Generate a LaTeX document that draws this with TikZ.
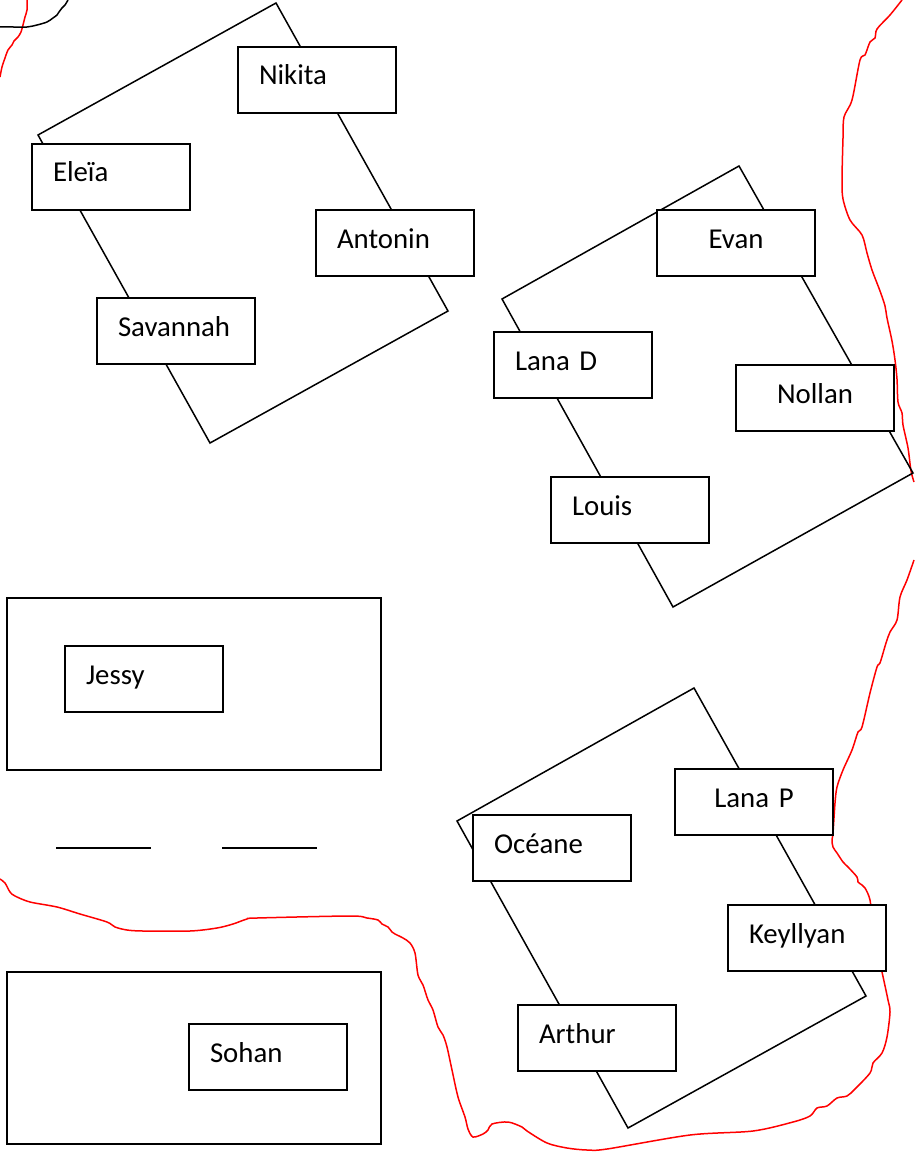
\documentclass[tikz,border=0pt]{standalone}
\usepackage{fontspec}
\setmainfont{Carlito}
\begin{document}
\begin{tikzpicture}[x=1pt,y=-1pt,
  namebox/.style={draw, line width=2pt, fill=white, minimum width=158pt, minimum height=66pt,
    inner xsep=21pt, inner ysep=0pt, text width=116pt, align=left,
    text height=20pt, text depth=10pt, font=\fontsize{28.8}{34}\selectfont},
  cbox/.style={namebox, align=center},
  groupbox/.style={draw, line width=2pt, minimum width=374pt, minimum height=172pt, inner sep=0pt},
  tableoutline/.style={draw, line width=1.5pt, line join=miter},
  boundary/.style={draw=red, line width=1.5pt},
  blankline/.style={draw, line width=1.5pt},
]
\useasboundingbox (0,0) rectangle (914,1158);

% red boundaries (drawn first, under the boxes)
\draw[boundary] plot[smooth, tension=0.5] coordinates {(27,0) (27,10) (25,17) (23,25) (21,32) (18,37) (14,41) (12,45) (8,50) (5,58) (2,67) (0,77)};
\draw[boundary] plot[smooth, tension=0.5] coordinates {(902,0) (890,15) (877,29) (875,38) (870,42) (865,55) (860,60) (852,100) (844,117) (843,138) (842,180) (843,199) (850,220) (862,235) (867,253) (872,270) (880,291) (885,306) (887,318) (892,341) (895,360) (897,379) (898,402) (902,413) (903,425) (908,448) (911,471) (914,482)};
\draw[boundary] plot[smooth, tension=0.5] coordinates {(914,560) (907,580) (900,597) (897,620) (890,632) (886,643) (880,663) (877,667) (870,693) (862,727) (858,732) (852,750) (843,770) (837,787) (835,803) (833,833) (832,840) (833,847) (837,853) (843,862) (848,867) (857,877) (858,882) (862,885) (865,888) (870,900) (873,927) (877,950) (882,972) (888,1000) (890,1012) (887,1037) (882,1053) (873,1063) (870,1073) (855,1089) (847,1096) (837,1098) (827,1106) (817,1108) (810,1116) (793,1122) (753,1131) (690,1135) (607,1149) (587,1150) (567,1148) (547,1143) (527,1131) (522,1127) (508,1122) (492,1124) (488,1130) (483,1134) (473,1137) (468,1129) (465,1117) (458,1097) (452,1070) (447,1047) (443,1035) (438,1027) (433,1010) (428,1000) (423,985) (418,975) (415,953) (410,943) (403,938) (395,934) (392,932) (388,927) (382,924) (378,920) (367,918) (350,916) (257,918) (247,919) (233,924) (217,928) (190,931) (143,931) (127,930) (115,927) (107,922) (80,914) (57,907) (30,902) (15,896) (10,892) (5,883) (0,879)};

% black curve at top left
\draw[line width=1.5pt] plot[smooth, tension=0.5] coordinates {(68,0) (65,5) (62,8) (59,12) (57,15) (53,18) (47,22) (37,25) (27,27) (13,27) (0,27)};

% rotated tables
\draw[tableoutline] (276,3) -- (448,311) -- (210,443) -- (38,135) -- cycle;
\draw[tableoutline] (739,166) -- (913,473) -- (673,607) -- (502,299) -- cycle;
\draw[tableoutline] (694,688) -- (866,996) -- (628,1128) -- (457,821) -- cycle;

% group rectangles
\node[groupbox] (jessygroup) at (194,684) {};
\node[groupbox] (sohangroup) at (194,1058) {};

% blank lines
\coordinate (b1s) at (56,848); \coordinate (b1e) at (151,848);
\coordinate (b2s) at (222,848); \coordinate (b2e) at (317,848);
\draw[blankline] (b1s) -- (b1e);
\draw[blankline] (b2s) -- (b2e);

% name boxes
\node[namebox] (nikita) at (317,80) {Nikita};
\node[namebox] (eleia) at (111,177) {Eleïa};
\node[namebox] (antonin) at (395,243) {Antonin};
\node[namebox] (savannah) at (176,331) {Savannah};
\node[cbox] (evan) at (736,243) {Evan};
\node[namebox] (lanad) at (573,365) {Lana D};
\node[cbox] (nollan) at (815,398) {Nollan};
\node[namebox] (louis) at (630,510) {Louis};
\node[namebox] (jessy) at (144,679) {Jessy};
\node[namebox] (sohan) at (268,1057) {Sohan};
\node[cbox] (lanap) at (754,802) {Lana P};
\node[namebox] (oceane) at (552,848) {Océane};
\node[namebox] (keyllyan) at (807,938) {Keyllyan};
\node[namebox] (arthur) at (597,1038) {Arthur};
\end{tikzpicture}
\end{document}
